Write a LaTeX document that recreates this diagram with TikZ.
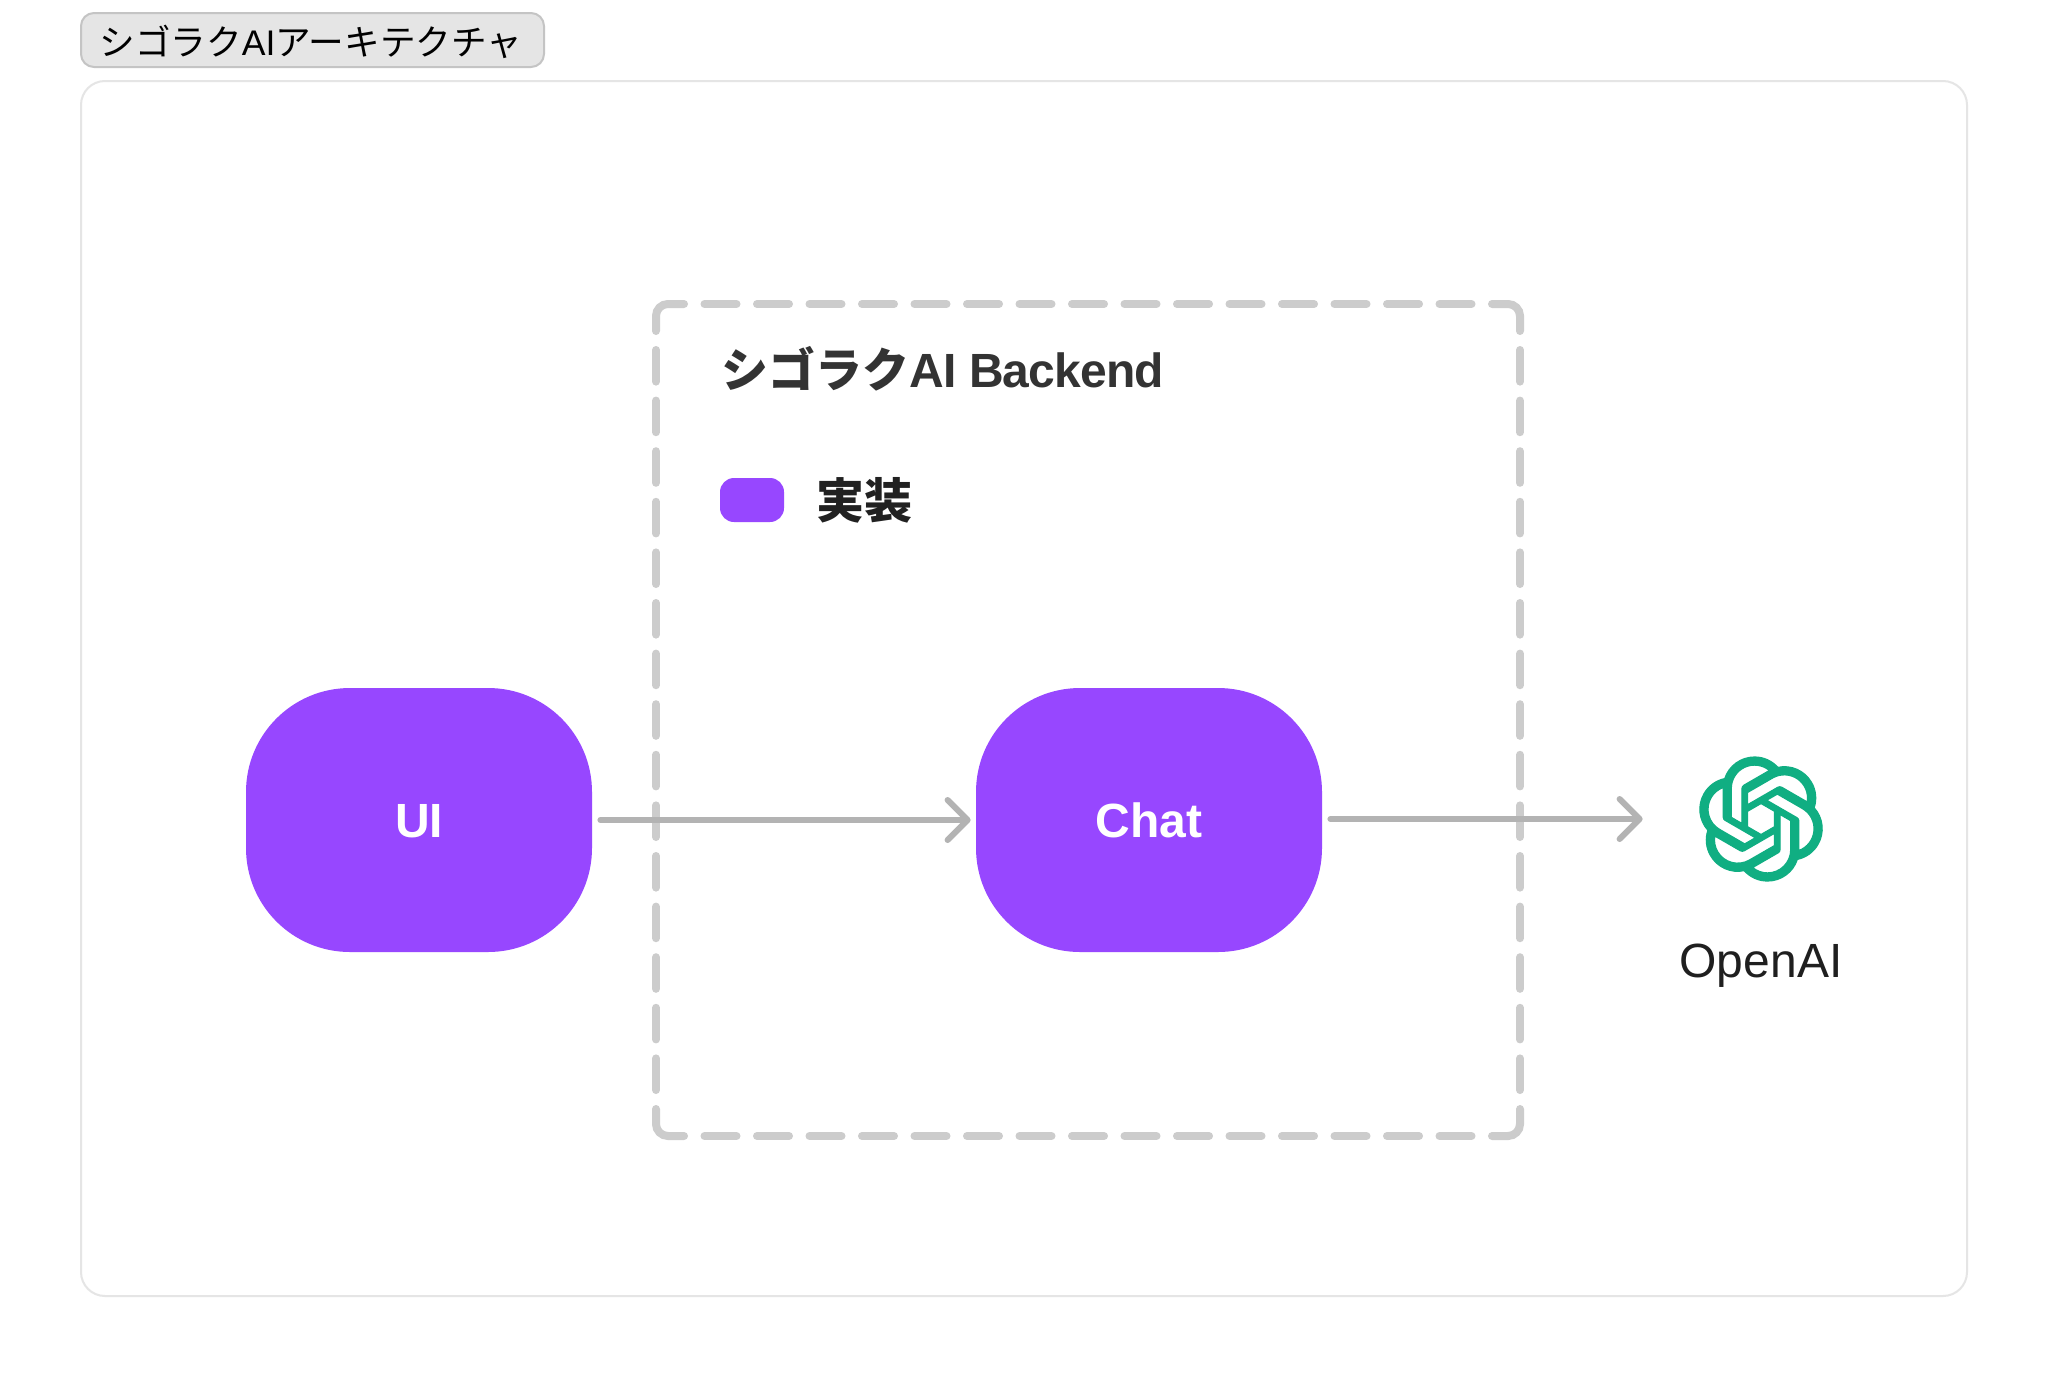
\documentclass[tikz,border=0pt]{standalone}
\usepackage{fontspec}
\setmainfont{Noto Sans CJK JP}
\newfontfamily\latn[LetterSpace=-1.7]{Liberation Sans}
\newfontfamily\latnplain{Liberation Sans}
\usetikzlibrary{arrows.meta,svg.path}
\definecolor{figpurple}{HTML}{9747FF}
\definecolor{barcol}{HTML}{B3B3B3}
\definecolor{dashcol}{HTML}{CCCCCC}
\definecolor{gptgreen}{HTML}{10AE82}
\tikzset{
  pill/.style={fill=figpurple,rounded corners=52pt,minimum width=173pt,minimum height=132pt,inner sep=0pt,
    text height=17pt,text depth=0pt,text=white,font=\latnplain\fontsize{24pt}{24pt}\selectfont\bfseries},
  flow/.style={draw=barcol,line width=3pt,line cap=round,shorten <=4pt,
    -{Straight Barb[length=10pt,width=20pt,line width=3pt,round]}},
  lbl/.style={inner sep=0pt,anchor=base west},
  groupline/.style={dashcol,line width=4pt,line cap=round},
  groupcorner/.style={groupline,rounded corners=6pt},
  grouph/.style={groupline,dash pattern=on 16pt off 10.25pt},
  groupv/.style={groupline,dash pattern=on 15.8pt off 9.5pt},
}
\begin{document}
\begin{tikzpicture}[x=0.5pt,y=-0.5pt]
\useasboundingbox (0,0) rectangle (2048,1376);
\fill[white] (0,0) rectangle (2048,1376);
% outer frame
\draw[draw=black!10,line width=1pt,rounded corners=12pt,fill=white] (81,81) rectangle (1967,1296);
% title badge
\node[draw=black!23,fill=black!10,line width=1pt,rounded corners=6.5pt,minimum width=231.5pt,minimum height=27pt,inner sep=0pt] (title) at (312.5,40) {};
\node[lbl,font=\fontsize{17.8pt}{17.8pt}\selectfont] (titletext) at (99,55) {シゴラク{\latnplain AI}アーキテクチャ};
% backend group: corners and sides
\draw[groupcorner] (684,304) -- (656,304) -- (656,331);
\draw[groupcorner] (1492,304) -- (1520,304) -- (1520,331);
\draw[groupcorner] (684,1136) -- (656,1136) -- (656,1109);
\draw[groupcorner] (1492,1136) -- (1520,1136) -- (1520,1109);
\foreach \yy in {304,1136} \draw[grouph] (704.5,\yy) -- (1471.5,\yy);
\foreach \xx in {656,1520} \draw[groupv] (\xx,350) -- (\xx,1090);
\node[lbl,font=\fontsize{23.5pt}{23.5pt}\selectfont\bfseries,text=black!80] (backend) at (721,387) {シゴラク{\latn\fontsize{24pt}{24pt}\selectfont AI Backend}};
\node[fill=figpurple,rounded corners=7pt,minimum width=32pt,minimum height=22pt,inner sep=0pt] (swatch) at (752,500) {};
\node[lbl,font=\fontsize{24pt}{24pt}\selectfont\bfseries,text=black!87] (impl) at (816,518) {実装};
% main nodes
\node[pill] (ui) at (419,820) {UI};
\node[pill] (chat) at (1149,820) {Chat};
\node[minimum size=65pt,inner sep=0pt] (logo) at (1761,819) {};
\filldraw[draw=gptgreen,fill=gptgreen,line width=0.6pt,even odd rule,shift={(logo.center)},scale=1.55,yscale=-1,xshift=-20.4pt,yshift=-20.5pt]
 svg {M37.5324 16.8707C37.9808 15.5241 38.1363 14.0974 37.9886 12.6859C37.8409 11.2744 37.3934 9.91076 36.676 8.68622C35.6126 6.83404 33.9882 5.3676 32.0373 4.4985C30.0864 3.62941 27.9098 3.40259 25.8215 3.85078C24.8796 2.7893 23.7219 1.94125 22.4257 1.36341C21.1295 0.785575 19.7249 0.491269 18.3058 0.500197C16.1708 0.495044 14.0893 1.16803 12.3614 2.42214C10.6335 3.67624 9.34853 5.44666 8.6917 7.47815C7.30085 7.76286 5.98686 8.3414 4.8377 9.17505C3.68854 10.0087 2.73073 11.0782 2.02839 12.312C0.956464 14.1591 0.498905 16.2988 0.721698 18.4228C0.944492 20.5467 1.83612 22.5449 3.268 24.1293C2.81966 25.4759 2.66413 26.9026 2.81182 28.3141C2.95951 29.7256 3.40701 31.0892 4.12437 32.3138C5.18791 34.1659 6.8123 35.6322 8.76321 36.5013C10.7141 37.3704 12.8907 37.5973 14.9789 37.1492C15.9208 38.2107 17.0786 39.0587 18.3747 39.6366C19.6709 40.2144 21.0755 40.5087 22.4946 40.4998C24.6307 40.5054 26.7133 39.8321 28.4418 38.5772C30.1704 37.3223 31.4556 35.5506 32.1119 33.5179C33.5027 33.2332 34.8167 32.6547 35.9659 31.821C37.115 30.9874 38.0728 29.9178 38.7752 28.684C39.8458 26.8371 40.3023 24.6979 40.0789 22.5748C39.8556 20.4517 38.9639 18.4544 37.5324 16.8707Z M22.4978 37.8849C20.7443 37.8874 19.0459 37.2733 17.6994 36.1501C17.7601 36.117 17.8666 36.0586 17.936 36.0161L25.9004 31.4156C26.1003 31.3019 26.2663 31.137 26.3813 30.9378C26.4964 30.7386 26.5563 30.5124 26.5549 30.2825V19.0542L29.9213 20.998C29.9389 21.0068 29.9541 21.0198 29.9656 21.0359C29.977 21.052 29.9842 21.0707 29.9867 21.0902V30.3889C29.9842 32.375 29.1946 34.2791 27.7909 35.6841C26.3872 37.0892 24.4838 37.8806 22.4978 37.8849Z M6.39227 31.0064C5.51397 29.4888 5.19742 27.7107 5.49804 25.9832C5.55718 26.0187 5.66048 26.0818 5.73461 26.1244L13.699 30.7248C13.8975 30.8408 14.1233 30.902 14.3532 30.902C14.583 30.902 14.8088 30.8408 15.0073 30.7248L24.731 25.1103V28.9979C24.7321 29.0177 24.7283 29.0376 24.7199 29.0556C24.7115 29.0736 24.6988 29.0893 24.6829 29.1012L16.6317 33.7497C14.9096 34.7416 12.8643 35.0097 10.9447 34.4954C9.02506 33.9811 7.38785 32.7263 6.39227 31.0064Z M4.29707 13.6194C5.17156 12.0998 6.55279 10.9364 8.19885 10.3327C8.19885 10.4013 8.19491 10.5228 8.19491 10.6071V19.808C8.19351 20.0378 8.25334 20.2638 8.36823 20.4629C8.48312 20.6619 8.64893 20.8267 8.84863 20.9404L18.5723 26.5542L15.206 28.4979C15.1894 28.5089 15.1703 28.5155 15.1505 28.5173C15.1307 28.5191 15.1107 28.516 15.0924 28.5082L7.04025 23.8557C5.32116 22.8601 4.06694 21.2235 3.55264 19.3046C3.03834 17.3858 3.30598 15.3413 4.29707 13.6194Z M31.955 20.0556L22.2312 14.4411L25.5976 12.4981C25.6142 12.4872 25.6333 12.4805 25.6531 12.4787C25.6729 12.4769 25.6928 12.4801 25.7111 12.4879L33.7632 17.1364C34.9967 17.849 36.0017 18.8982 36.6606 20.1613C37.3194 21.4244 37.6047 22.849 37.4832 24.2684C37.3617 25.6878 36.8382 27.0432 35.9743 28.1759C35.1103 29.3086 33.9415 30.1717 32.6047 30.6641C32.6047 30.5947 32.6047 30.4733 32.6047 30.3889V21.188C32.6066 20.9586 32.5474 20.7328 32.4332 20.5338C32.319 20.3348 32.154 20.1698 31.955 20.0556Z M35.3055 15.0128C35.2464 14.9765 35.1431 14.9142 35.069 14.8717L27.1045 10.2712C26.906 10.1554 26.6803 10.0943 26.4504 10.0943C26.2206 10.0943 25.9948 10.1554 25.7963 10.2712L16.0726 15.8858V11.9982C16.0715 11.9783 16.0753 11.9585 16.0837 11.9405C16.0921 11.9225 16.1048 11.9068 16.1207 11.8949L24.1719 7.25025C25.4053 6.53903 26.8158 6.19376 28.2383 6.25482C29.6608 6.31589 31.0364 6.78077 32.2044 7.59508C33.3723 8.40939 34.2842 9.53945 34.8334 10.8531C35.3826 12.1667 35.5464 13.6095 35.3055 15.0128Z M14.2424 21.9419L10.8752 19.9981C10.8576 19.9893 10.8423 19.9763 10.8309 19.9602C10.8195 19.9441 10.8122 19.9254 10.8098 19.9058V10.6071C10.8107 9.18295 11.2173 7.78848 11.9819 6.58696C12.7466 5.38544 13.8377 4.42659 15.1275 3.82264C16.4173 3.21869 17.8524 2.99464 19.2649 3.1767C20.6775 3.35876 22.0089 3.93941 23.1034 4.85067C23.0427 4.88379 22.937 4.94215 22.8668 4.98473L14.9024 9.58517C14.7025 9.69878 14.5366 9.86356 14.4215 10.0626C14.3065 10.2616 14.2466 10.4877 14.2479 10.7175L14.2424 21.9419Z M16.071 17.9991L20.4018 15.4978L24.7325 17.9975V22.9985L20.4018 25.4983L16.071 22.9985V17.9991Z};
\node[inner sep=0pt,anchor=base,font=\latnplain\fontsize{24pt}{24pt}\selectfont,text=black!88] (openai) at (1761,977) {OpenAI};
% connectors
\draw[flow,shorten >=2.5pt] (ui.east) -- (chat.west);
\draw[flow,shorten >=26.5pt] (logo.west -| chat.east) -- (logo.west);
\end{tikzpicture}
\end{document}
